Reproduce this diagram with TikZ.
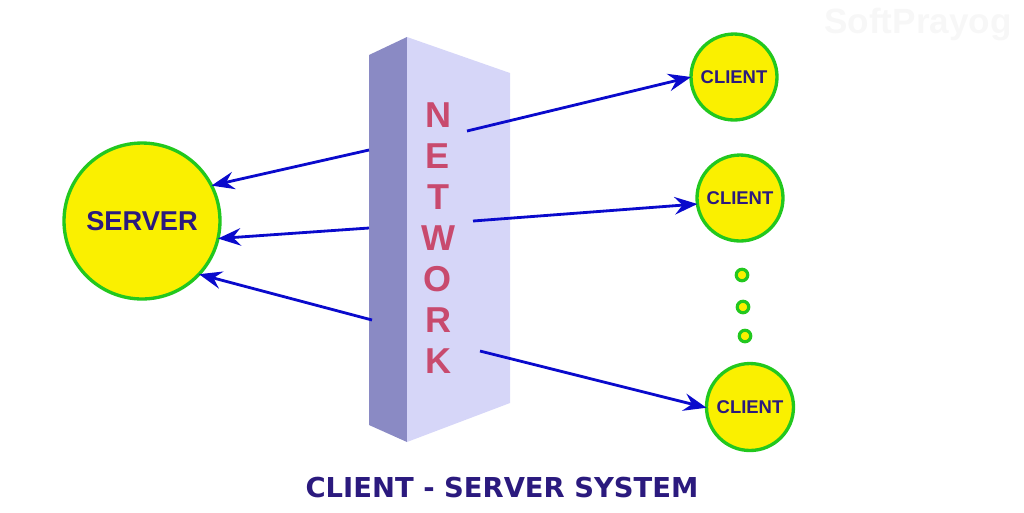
\documentclass[tikz,border=0pt]{standalone}
\usepackage{fontspec}
\setmainfont{Liberation Sans}
\newfontfamily\titlefont{DejaVu Sans}
\usetikzlibrary{arrows.meta, positioning}
\definecolor{ringgreen}{HTML}{22C81E}
\definecolor{discyellow}{HTML}{FAF000}
\definecolor{navy}{HTML}{2B1A7E}
\definecolor{linkblue}{HTML}{0A0ACC}
\definecolor{netrose}{HTML}{C84A6E}
\definecolor{slabfront}{HTML}{D6D6F8}
\definecolor{slabside}{HTML}{8A8AC4}

\begin{document}
\begin{tikzpicture}[
  x=0.02cm, y=-0.02cm,
  >={Stealth[length=13pt, width=10pt, inset=4.5pt]},
  link/.style={->, line width=1.6pt, linkblue},
  host/.style={circle, draw=ringgreen, line width=1.9pt, fill=discyellow, inner sep=0pt, outer sep=0pt, text=navy},
  dot/.style={circle, draw=ringgreen, line width=1.8pt, fill=discyellow, minimum size=0.23cm, inner sep=0pt}
]
\useasboundingbox (0,0) rectangle (1024,512);

\fill[slabside] (369,55) -- (407,37) -- (407,442) -- (369,425) -- cycle;
\fill[slabfront] (407,37) -- (510,73) -- (510,403) -- (407,442) -- cycle;
\foreach \ch [count=\i] in {N,E,T,W,O,R,K}
  \node[font=\fontsize{20.5}{20.5}\selectfont\bfseries, text=netrose] (L\i) at (438, 74+41*\i) {\ch};

\node[host, minimum size=3.12cm, font=\fontsize{15.5}{15.5}\selectfont\bfseries] (S) at (142,221) {SERVER};
\node[host, minimum size=1.72cm, font=\fontsize{10.5}{10.5}\selectfont\bfseries] (C1) at (734,77) {CLIENT};
\node[host, minimum size=1.72cm, font=\fontsize{10.5}{10.5}\selectfont\bfseries] (C2) at (740,198) {CLIENT};
\node[host, minimum size=1.74cm, font=\fontsize{10.5}{10.5}\selectfont\bfseries] (C3) at (750,407) {CLIENT};
\node[dot] (d1) at (742,275) {};
\node[dot] (d2) at (743,307) {};
\node[dot] (d3) at (745,336) {};

\coordinate (s1) at (369,150);
\coordinate (s2) at (369,228);
\coordinate (s3) at (372,320);
\coordinate (t1) at (467,131);
\coordinate (t2) at (473,221);
\coordinate (t3) at (480,351);

\draw[link] (s1) -- (S.27);
\draw[link] (s2) -- (S.-13);
\draw[link] (s3) -- (S.-43);
\draw[link] (t1) -- (C1.west);
\draw[link] (t2) -- (C2.188);
\draw[link] (t3) -- (C3.181);

\node[font=\titlefont\fontsize{15.6}{15.6}\selectfont\bfseries, text=navy] (T) at (502,488) {CLIENT - SERVER SYSTEM};
\node[font=\fontsize{20}{20}\selectfont\bfseries, text=gray!6] (W) at (918,24) {SoftPrayog};
\end{tikzpicture}
\end{document}
